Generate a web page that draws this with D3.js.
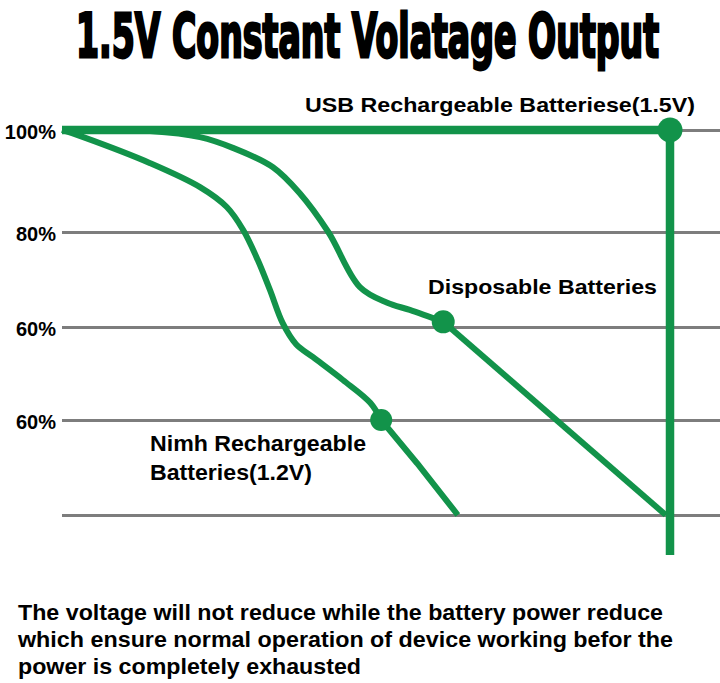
<!DOCTYPE html>
<html>
<head>
<meta charset="utf-8">
<script src="https://cdn.jsdelivr.net/npm/d3@7"></script>
<style>
  body { margin: 0; background: #fff; }
  svg { display: block; }
</style>
</head>
<body>
<div id="chart"></div>
<script>
// ---- data (x = share of run time, y = output level) ----
var yTicks  = [20, 40, 60, 80, 100];
var yLabels = ["", "60%", "60%", "80%", "100%"];

var usbX = [0, 100, 100];
var usbY = [100, 100, 11.6];

// curved part up to the marker, then a straight tail
var dispX = [0, 14.5, 22.7, 28.1, 34.7, 39.1, 43.8, 49.0, 53.5, 57.2, 62.7];
var dispY = [100, 99.8, 98.6, 96.5, 92.7, 87.6, 80, 68.4, 65.1, 63.6, 61.1];
var dispTailX = [62.7, 99.3];
var dispTailY = [61.1, 20];

var nimhX = [0, 3.5, 14.5, 22.7, 27.1, 29.8, 32.2, 34.2, 36.3, 38.5, 41.3, 46.2, 50.7, 52.5];
var nimhY = [100, 98.6, 93.5, 88.8, 84.9, 80.4, 74.1, 67.8, 60.8, 56.3, 53.5, 48.6, 43.7, 40];
var nimhTailX = [52.5, 58.4, 65.1];
var nimhTailY = [40, 30.9, 20];

// marker points on each curve
var usbDot  = [100, 100];
var dispDot = [62.7, 61.1];
var nimhDot = [52.5, 40];

var seriesNames = ["USB Rechargeable Batteriese(1.5V)", "Disposable Batteries", ["Nimh Rechargeable", "Batteries(1.2V)"]];
var title = "1.5V Constant Volatage Output";
var note = [
  "The voltage will not reduce while the battery power reduce",
  "which ensure normal operation of device working befor the",
  "power is completely exhausted"
];

// ---- layout ----
var svgWidth = 720, svgHeight = 683;
var green = "#12934a";
var gray = "#7d7d7d";

var svg = d3.select("#chart").append("svg")
  .attr("width", svgWidth)
  .attr("height", svgHeight);

var x = d3.scaleLinear().domain([0, 100]).range([62, 670]);
// grid rows are not quite evenly spaced in the picture
var y = d3.scaleLinear().domain(yTicks).range([515, 420, 327, 232, 130]);

// title: small condensed font stretched tall to get the poster look
svg.append("text")
  .attr("transform", "translate(76,57) scale(1,1.72)")
  .attr("x", 0)
  .attr("y", 0)
  .attr("textLength", 583)
  .attr("lengthAdjust", "spacingAndGlyphs")
  .attr("font-family", "'DejaVu Sans Condensed', 'Liberation Sans Narrow', sans-serif")
  .attr("font-weight", "bold")
  .attr("font-size", 35)
  .attr("fill", "#000")
  .attr("stroke", "#000")
  .attr("stroke-width", 1.6)
  .text(title);

// grid + y labels
var axis = d3.axisLeft(y)
  .tickValues(yTicks)
  .tickFormat((d, i) => yLabels[i])
  .tickSize(-(svgWidth - 62))
  .tickPadding(6);

var gAxis = svg.append("g")
  .attr("transform", "translate(62,0)")
  .call(axis);
gAxis.select(".domain").remove();
gAxis.selectAll(".tick line")
  .attr("stroke", gray)
  .attr("stroke-width", 3);
gAxis.selectAll(".tick text")
  .attr("fill", "#000")
  .attr("font-family", "'Liberation Sans', Arial, sans-serif")
  .attr("font-weight", "bold")
  .attr("font-size", 20)
  .attr("dy", "0.42em");

// curves
var smooth = d3.line()
  .x(d => x(d[0]))
  .y(d => y(d[1]))
  .curve(d3.curveCatmullRom.alpha(0.5));
var straight = d3.line()
  .x(d => x(d[0]))
  .y(d => y(d[1]));

function pts(xs, ys) { return xs.map((v, i) => [v, ys[i]]); }

var thin = [
  [smooth, pts(nimhX, nimhY)],
  [straight, pts(nimhTailX, nimhTailY)],
  [smooth, pts(dispX, dispY)],
  [straight, pts(dispTailX, dispTailY)]
];
thin.forEach(t => {
  svg.append("path")
    .attr("d", t[0](t[1]))
    .attr("fill", "none")
    .attr("stroke", green)
    .attr("stroke-width", 6)
    .attr("stroke-linejoin", "round");
});

svg.append("path")
  .attr("d", straight(pts(usbX, usbY)))
  .attr("fill", "none")
  .attr("stroke", green)
  .attr("stroke-width", 8.5);

// dots
svg.selectAll("circle.dot")
  .data([[usbDot, 12.5], [dispDot, 11.5], [nimhDot, 11]])
  .enter()
  .append("circle")
  .attr("class", "dot")
  .attr("cx", d => x(d[0][0]))
  .attr("cy", d => y(d[0][1]))
  .attr("r", d => d[1])
  .attr("fill", green);

// series labels
var labelFont = "'Liberation Sans', Arial, sans-serif";
svg.append("text")
  .attr("x", 305).attr("y", 112)
  .attr("textLength", 390).attr("lengthAdjust", "spacingAndGlyphs")
  .attr("font-family", labelFont).attr("font-weight", "bold").attr("font-size", 21)
  .text(seriesNames[0]);

svg.append("text")
  .attr("x", 428).attr("y", 294)
  .attr("textLength", 229).attr("lengthAdjust", "spacingAndGlyphs")
  .attr("font-family", labelFont).attr("font-weight", "bold").attr("font-size", 21)
  .text(seriesNames[1]);

svg.append("text")
  .attr("x", 150).attr("y", 451)
  .attr("textLength", 216).attr("lengthAdjust", "spacingAndGlyphs")
  .attr("font-family", labelFont).attr("font-weight", "bold").attr("font-size", 22)
  .text(seriesNames[2][0]);
svg.append("text")
  .attr("x", 150).attr("y", 480)
  .attr("textLength", 162).attr("lengthAdjust", "spacingAndGlyphs")
  .attr("font-family", labelFont).attr("font-weight", "bold").attr("font-size", 22)
  .text(seriesNames[2][1]);

// note at bottom
var noteWidths = [645, 655, 343];
svg.selectAll("text.note")
  .data(note)
  .enter()
  .append("text")
  .attr("class", "note")
  .attr("x", 18)
  .attr("y", (d, i) => 620 + i * 27)
  .attr("textLength", (d, i) => noteWidths[i])
  .attr("lengthAdjust", "spacingAndGlyphs")
  .attr("font-family", labelFont)
  .attr("font-weight", "bold")
  .attr("font-size", 22)
  .text(d => d);
</script>
</body>
</html>
